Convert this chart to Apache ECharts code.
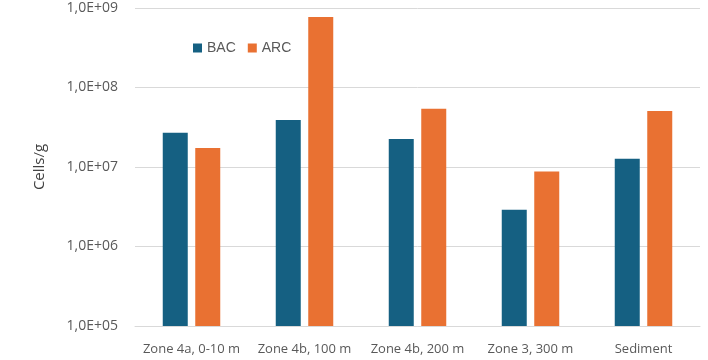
<!DOCTYPE html>
<html>
<head>
<meta charset="utf-8">
<style>
  html, body { margin: 0; padding: 0; background: #fff; }
  #chart { width: 708px; height: 360px; }
</style>
<script src="https://cdn.jsdelivr.net/npm/echarts@6/dist/echarts.min.js"></script>
</head>
<body>
<div id="chart"></div>
<script>
const categories = ['Zone 4a, 0-10 m', 'Zone 4b, 100 m', 'Zone 4b, 200 m', 'Zone 3, 300 m', 'Sediment']
const bac = [2.7e7, 3.9e7, 2.25e7, 2.9e6, 1.27e7]
const arc = [1.73e7, 7.7e8, 5.4e7, 8.8e6, 5.05e7]

const fmtExp = (v) => {
  const e = Math.round(Math.log10(v))
  return '1,0E+' + String(e).padStart(2, '0')
}

const chart = echarts.init(document.getElementById('chart'))

chart.setOption({
  animation: false,
  textStyle: { fontFamily: 'Open Sans' },
  legend: {
    left: 188,
    top: 36,
    itemWidth: 9,
    itemHeight: 9,
    itemGap: 12,
    icon: 'rect',
    textStyle: { color: '#595959', fontSize: 14, fontFamily: 'Liberation Sans' },
    data: ['BAC', 'ARC']
  },
  grid: { left: 135, right: 8, top: 8, bottom: 34 },
  xAxis: {
    type: 'category',
    data: categories,
    axisTick: { show: false },
    axisLine: { lineStyle: { color: '#d9d9d9' } },
    axisLabel: { color: '#595959', fontSize: 13, margin: 17, interval: 0 }
  },
  yAxis: {
    type: 'log',
    logBase: 10,
    min: 1e5,
    max: 1e9,
    name: 'Cells/g',
    nameLocation: 'middle',
    nameGap: 88,
    nameTextStyle: { color: '#404040', fontSize: 15 },
    axisLine: { show: false },
    axisTick: { show: false },
    splitLine: { lineStyle: { color: '#d9d9d9' } },
    axisLabel: { color: '#595959', fontSize: 14, margin: 17, formatter: fmtExp }
  },
  series: [
    {
      name: 'BAC',
      type: 'bar',
      data: bac,
      barWidth: 25,
      barGap: '30%',
      itemStyle: { color: '#156082' }
    },
    {
      name: 'ARC',
      type: 'bar',
      data: arc,
      barWidth: 25,
      itemStyle: { color: '#e97132' }
    }
  ]
})
</script>
</body>
</html>
